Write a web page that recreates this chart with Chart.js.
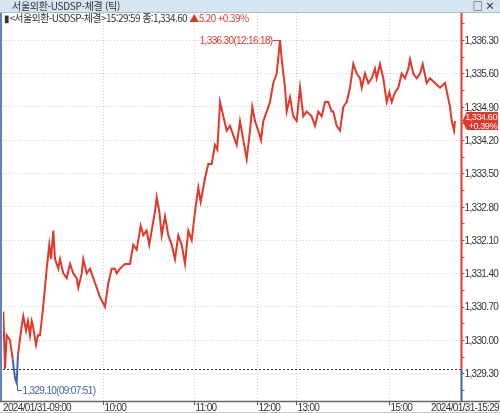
<!DOCTYPE html>
<html lang="ko">
<head>
<meta charset="UTF-8">
<title>서울외환-USDSP-체결 (틱)</title>
<style>
  body { margin: 0; background: #fff; font-family: "Noto Sans CJK KR", "Liberation Sans", sans-serif; }
  #wrap { position: relative; width: 500px; height: 413px; overflow: hidden; }
  #bar { position: absolute; left: 0; top: 0; width: 500px; height: 12px; background: #d5e5f2; border-bottom: 1px solid #a9bfd1; font-size: 10px; line-height: 12px; color: #333; z-index: 2; }
  #bar .t { position: absolute; left: 12px; top: 0; letter-spacing: -0.3px; }
  #bar .btn { position: absolute; right: 5px; top: 0; font-size: 10px; font-weight: bold; }
  #info { position: absolute; left: 4px; top: 12px; font-size: 10px; line-height: 12px; color: #333; white-space: nowrap; letter-spacing: -0.6px; z-index: 2; }
  #info .up { color: #e2382a; }
  canvas { position: absolute; left: 0; top: 0; }
</style>
</head>
<body>
<div id="wrap">
  <div id="bar"><span class="t">서울외환-USDSP-체결 (틱)</span><span class="btn">□ ×</span></div>
  <div id="info">▮&lt;서울외환-USDSP-체결&gt;15:29:59 종:1,334.60 <span class="up">▲5.20 +0.39%</span></div>
  <canvas id="chart" width="500" height="413"></canvas>
</div>

<script src="https://cdn.jsdelivr.net/npm/chart.js"></script>
<script>
  // tick sequence number (x) and traded price
  const tickNo = [
    3, 20, 37, 70, 97, 120, 137, 150, 187, 203,
    230, 250, 270, 287, 300, 330, 350, 370, 397, 420,
    437, 463, 480, 503, 520, 553, 570, 603, 637, 670,
    703, 737, 753, 787, 803, 837, 870, 903, 937, 970,
    1020, 1053, 1087, 1120, 1137, 1170, 1220, 1270, 1303, 1337,
    1377, 1403, 1437, 1463, 1487, 1520, 1537, 1563, 1587, 1620,
    1653, 1687, 1720, 1753, 1787, 1820, 1853, 1887, 1920, 1953,
    1977, 2020, 2053, 2087, 2120, 2143, 2170, 2203, 2237, 2270,
    2303, 2337, 2370, 2403, 2437, 2470, 2493, 2520, 2553, 2580,
    2603, 2637, 2670, 2703, 2737, 2770, 2787, 2820, 2837, 2870,
    2903, 2937, 2970, 3003, 3037, 3087, 3120, 3153, 3187, 3220,
    3253, 3287, 3303, 3337, 3370, 3403, 3437, 3470, 3503, 3537,
    3570, 3587, 3620, 3653, 3687, 3720, 3737, 3770, 3803, 3837,
    3863, 3887, 3920, 3953, 3987, 4020, 4053, 4070, 4103, 4137,
    4170, 4197, 4237, 4270, 4320, 4370, 4420, 4470, 4487, 4510,
    4520
  ];
  const price = [
    1330.6, 1329.4, 1330.1, 1330.0, 1329.6, 1329.2, 1329.1, 1329.7, 1330.3, 1330.5,
    1330.2, 1330.4, 1330.1, 1330.4, 1330.3, 1329.9, 1330.1, 1330.1, 1330.6, 1331.1,
    1331.5, 1332.0, 1331.7, 1332.3, 1331.7, 1331.5, 1331.7, 1331.4, 1331.3, 1331.6,
    1331.4, 1331.3, 1331.1, 1331.4, 1331.7, 1331.4, 1331.5, 1331.3, 1331.1, 1330.9,
    1330.7, 1331.2, 1331.5, 1331.5, 1331.4, 1331.5, 1331.6, 1331.6, 1332.0, 1331.9,
    1332.4, 1332.2, 1332.3, 1332.0, 1332.3, 1332.7, 1333.0, 1332.7, 1332.2, 1332.6,
    1332.2, 1332.0, 1331.7, 1332.2, 1332.0, 1331.6, 1332.3, 1332.1, 1332.7, 1333.2,
    1332.9, 1333.4, 1333.7, 1333.7, 1334.1, 1334.0, 1335.0, 1334.7, 1334.4, 1334.5,
    1334.3, 1334.1, 1334.6, 1334.2, 1333.8, 1334.4, 1334.9, 1334.6, 1334.4, 1334.2,
    1334.6, 1334.8, 1335.0, 1335.4, 1335.6, 1336.3, 1335.9, 1335.3, 1334.8, 1335.1,
    1334.7, 1334.6, 1335.3, 1334.7, 1334.8, 1334.7, 1334.5, 1334.8, 1334.7, 1335.0,
    1335.0, 1334.8, 1334.8, 1334.5, 1334.4, 1334.9, 1335.0, 1335.3, 1335.8, 1335.6,
    1335.5, 1335.3, 1335.6, 1335.4, 1335.5, 1335.7, 1335.5, 1335.8, 1335.5, 1335.0,
    1335.2, 1335.0, 1335.2, 1335.3, 1335.6, 1335.5, 1335.7, 1335.9, 1335.6, 1335.5,
    1335.6, 1335.8, 1335.4, 1335.5, 1335.4, 1335.3, 1335.4, 1334.9, 1334.6, 1334.4,
    1334.6
  ];
  const priceTicks = [1329.3, 1330.0, 1330.7, 1331.4, 1332.1, 1332.8, 1333.5, 1334.2, 1334.9, 1335.6, 1336.3];
  const timeTicks = [0, 1000, 1910, 2540, 2930, 3860, 4580];
  const timeLabels = ['2024/01/31-09:00', '10:00', '11:00', '12:00', '13:00', '15:00', '2024/01/31-15:29'];
  const prevClose = 1329.4;
  const lastPrice = 1334.6;
  const changePct = '+0.39%';
  const highTime = '12:16:18';
  const lowTime = '09:07:51';

  const RED = '#e2382a';
  const BLUE = '#3f62a8';
  const fmt = v => v.toLocaleString('en-US', { minimumFractionDigits: 2, maximumFractionDigits: 2 });

  function line(ctx, x1, y1, x2, y2) {
    ctx.beginPath();
    ctx.moveTo(x1, y1);
    ctx.lineTo(x2, y2);
    ctx.stroke();
  }

  const deco = {
    id: 'deco',
    beforeDatasetsDraw(chart) {
      const { ctx, chartArea: a, scales: { y } } = chart;
      const py = Math.round(y.getPixelForValue(prevClose)) + 0.5;
      ctx.save();
      ctx.strokeStyle = '#333';
      ctx.lineWidth = 1;
      ctx.setLineDash([2, 2]);
      line(ctx, a.left, py, a.right, py);
      ctx.restore();
    },
    afterDraw(chart) {
      const { ctx, chartArea: a, scales: { x, y } } = chart;
      const ax = Math.round(a.right) + 0.5;
      const pc = y.getPixelForValue(prevClose);
      ctx.save();
      ctx.font = '10px "Liberation Sans"';
      ctx.letterSpacing = '-0.65px';

      // left frame
      ctx.strokeStyle = '#5f84bd';
      ctx.lineWidth = 2;
      line(ctx, 1, 12, 1, a.bottom);

      // price axis line, red above previous close, blue below
      ctx.lineWidth = 2;
      ctx.strokeStyle = RED;
      line(ctx, ax, a.top, ax, pc);
      ctx.strokeStyle = BLUE;
      line(ctx, ax, pc, ax, a.bottom);

      // minor ticks
      ctx.lineWidth = 1;
      for (let v = priceTicks[0] - 0.35; v < y.max; v += 0.35) {
        const py = Math.round(y.getPixelForValue(v)) + 0.5;
        if (py < a.top || py > a.bottom) continue;
        ctx.strokeStyle = v >= prevClose ? RED : BLUE;
        line(ctx, ax, py, ax + 3, py);
      }

      // price labels
      ctx.fillStyle = '#333';
      ctx.textAlign = 'left';
      ctx.textBaseline = 'middle';
      y.ticks.forEach(t => {
        const py = y.getPixelForValue(t.value);
        ctx.fillText(fmt(t.value), ax + 3, py + 1);
      });

      // time axis
      ctx.strokeStyle = '#666';
      ctx.lineWidth = 1.5;
      line(ctx, 0, a.bottom + 0.5, 500, a.bottom + 0.5);
      ctx.strokeStyle = '#c8c8c8';
      ctx.lineWidth = 1;
      line(ctx, 0, 412.5, 500, 412.5);
      ctx.strokeStyle = '#555';
      ctx.textBaseline = 'alphabetic';
      timeTicks.forEach((v, i) => {
        const px = Math.round(x.getPixelForValue(v)) + 0.5;
        if (i === timeTicks.length - 1) {
          ctx.textAlign = 'right';
          ctx.fillText(timeLabels[i], 499, 411);
        } else {
          if (i > 0) line(ctx, px, a.bottom + 1, px, a.bottom + 4);
          ctx.textAlign = 'left';
          ctx.fillText(timeLabels[i], i === 0 ? 3 : px + 1, 411);
        }
      });

      // high / low annotations
      let hi = 0, lo = 0;
      price.forEach((p, i) => {
        if (p > price[hi]) hi = i;
        if (p < price[lo]) lo = i;
      });
      const hx = Math.round(x.getPixelForValue(tickNo[hi])) + 0.5;
      const hy = Math.round(y.getPixelForValue(price[hi])) + 0.5;
      ctx.strokeStyle = RED;
      ctx.fillStyle = RED;
      line(ctx, hx - 8, hy, hx, hy);
      line(ctx, hx, hy, hx, hy + 3);
      ctx.textAlign = 'right';
      ctx.textBaseline = 'middle';
      ctx.fillText(fmt(price[hi]) + '(' + highTime + ')', hx - 8, hy + 1);

      const lx = Math.round(x.getPixelForValue(tickNo[lo])) + 0.5;
      const ly = Math.round(y.getPixelForValue(price[lo])) + 0.5;
      ctx.strokeStyle = BLUE;
      ctx.fillStyle = BLUE;
      line(ctx, lx, ly + 1, lx, ly + 7);
      line(ctx, lx, ly + 7, lx + 4, ly + 7);
      ctx.textAlign = 'left';
      ctx.fillText(fmt(price[lo]) + '(' + lowTime + ')', lx + 5, ly + 8);

      // current price tag
      const cy = y.getPixelForValue(lastPrice);
      ctx.fillStyle = RED;
      ctx.beginPath();
      ctx.moveTo(ax + 1, cy);
      ctx.lineTo(ax + 5, cy - 9);
      ctx.lineTo(498, cy - 9);
      ctx.lineTo(498, cy + 9);
      ctx.lineTo(ax + 5, cy + 9);
      ctx.closePath();
      ctx.fill();
      ctx.fillStyle = '#fff';
      ctx.font = '9px "Liberation Sans"';
      ctx.letterSpacing = '-0.4px';
      ctx.textAlign = 'right';
      ctx.fillText(fmt(lastPrice), 497, cy - 4);
      ctx.fillText(changePct, 497, cy + 5);
      ctx.restore();
    }
  };

  const points = tickNo.map((t, i) => ({ x: t, y: price[i] }));
  const ctx = document.getElementById('chart').getContext('2d');

  new Chart(ctx, {
    type: 'line',
    data: {
      datasets: [{
        data: points,
        borderColor: RED,
        borderWidth: 2,
        pointRadius: 0,
        tension: 0,
        segment: {
          borderColor: c => (c.p0.parsed.y < prevClose || c.p1.parsed.y < prevClose) ? BLUE : RED
        }
      }]
    },
    options: {
      responsive: false,
      animation: false,
      devicePixelRatio: 1,
      layout: { padding: { top: 13, left: 3, right: 0, bottom: 0 } },
      plugins: { legend: { display: false }, tooltip: { enabled: false } },
      scales: {
        x: {
          type: 'linear',
          min: timeTicks[0],
          max: timeTicks[timeTicks.length - 1],
          afterBuildTicks: s => { s.ticks = timeTicks.slice(1, -1).map(v => ({ value: v })); },
          afterFit: s => { s.height = 12; },
          ticks: { display: false },
          grid: { color: '#d0d0d0', drawTicks: false },
          border: { display: false, dash: [1, 2] }
        },
        y: {
          position: 'right',
          min: 1328.72,
          max: 1336.87,
          afterBuildTicks: s => { s.ticks = priceTicks.map(v => ({ value: v })); },
          afterFit: s => { s.width = 39; },
          ticks: { display: false },
          grid: { color: '#d0d0d0', drawTicks: false },
          border: { display: false, dash: [1, 2] }
        }
      }
    },
    plugins: [deco]
  });
</script>
</body>
</html>
